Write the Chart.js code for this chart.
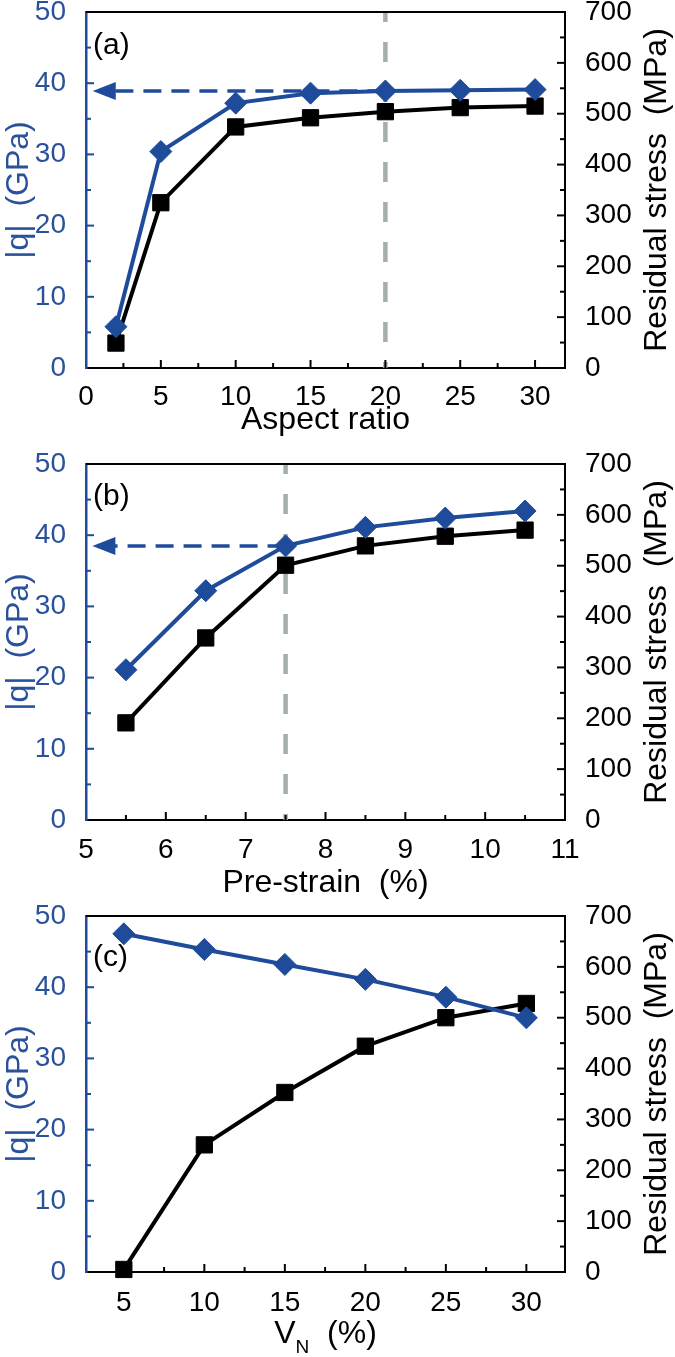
<!DOCTYPE html>
<html><head><meta charset="utf-8">
<script src="https://cdn.jsdelivr.net/npm/chart.js@4"></script>
<style>
html,body{margin:0;padding:0;background:#fff;}
body{width:675px;height:1357px;position:relative;overflow:hidden;}
canvas{position:absolute;left:0;}
</style></head><body>
<canvas id="ca"></canvas><canvas id="cb"></canvas><canvas id="cc"></canvas>
<script>
// ---- data ----
const aspectRatio = [2, 5, 10, 15, 20, 25, 30];
const qA = [5.8, 30.4, 37.2, 38.6, 38.9, 39.0, 39.1];
const stressA = [49, 325, 474, 492, 504, 512, 515];

const preStrain = [5.5, 6.5, 7.5, 8.5, 9.5, 10.5];
const qB = [21.1, 32.2, 38.5, 41.1, 42.4, 43.4];
const stressB = [191, 358, 501, 539, 558, 570];

const volumeN = [5, 10, 15, 20, 25, 30];
const qC = [47.5, 45.3, 43.2, 41.1, 38.6, 35.7];
const stressC = [5, 250, 353, 444, 500, 528];

const xTicksA = [0, 5, 10, 15, 20, 25, 30];
const xTicksB = [5, 6, 7, 8, 9, 10, 11];
const xTicksC = [5, 10, 15, 20, 25, 30];
const qTicks = [0, 10, 20, 30, 40, 50];
const stressTicks = [0, 100, 200, 300, 400, 500, 600, 700];

// reference markers (vertical guide x value, arrow |q| value, arrow tip x value)
const guideA = {x: 20, q: 38.9, tip: 0.45};
const guideB = {x: 7.5, q: 38.5, tip: 5.08};

// ---- style ----
const BLUE = '#1f4b9b';
const BLUE_TXT = '#2a519b';
const GRAY = '#a3b0a9';
const FONT = "'Liberation Sans', Arial, Helvetica, sans-serif";
const PADTOP = 30;
const RIGHT_TITLE = 'Residual stress  (MPa)';

const decor = {
  id: 'decor',
  beforeDatasetsDraw(chart) {
    const c = chart.options.plugins.decor;
    const {ctx, chartArea: a, scales: {x, yq}} = chart;
    if (!c.guide) return;
    ctx.save();
    const px = x.getPixelForValue(c.guide.x);
    ctx.strokeStyle = GRAY; ctx.lineWidth = 4.5;
    ctx.setLineDash([20, 20]); ctx.lineDashOffset = 10;
    ctx.beginPath(); ctx.moveTo(px, a.top); ctx.lineTo(px, a.bottom); ctx.stroke();
    // blue dashed arrow
    const py = yq.getPixelForValue(c.guide.q);
    const tip = x.getPixelForValue(c.guide.tip);
    ctx.strokeStyle = BLUE; ctx.lineWidth = 3.5;
    ctx.setLineDash([18, 10]); ctx.lineDashOffset = 0;
    ctx.beginPath(); ctx.moveTo(px, py); ctx.lineTo(tip + 18, py); ctx.stroke();
    ctx.setLineDash([]);
    ctx.fillStyle = BLUE;
    ctx.beginPath(); ctx.moveTo(tip, py); ctx.lineTo(tip + 23, py - 9); ctx.lineTo(tip + 23, py + 9); ctx.closePath(); ctx.fill();
    ctx.restore();
  },
  afterDraw(chart) {
    const c = chart.options.plugins.decor;
    const {ctx, chartArea: a, scales: {x, yq, ys}} = chart;
    ctx.save();
    ctx.setLineDash([]);
    // top frame
    ctx.strokeStyle = '#000'; ctx.lineWidth = 2;
    ctx.beginPath(); ctx.moveTo(a.left, a.top); ctx.lineTo(a.right + 1, a.top); ctx.stroke();
    // x ticks (inward)
    ctx.lineWidth = 2; ctx.strokeStyle = '#000';
    const st = c.xMinor;
    for (let v = Math.ceil((x.min + 1e-6) / st) * st; v < x.max - 1e-6; v += st) {
      const p = x.getPixelForValue(v);
      const major = Math.abs(v / c.xMajor - Math.round(v / c.xMajor)) < 1e-6;
      ctx.beginPath(); ctx.moveTo(p, a.bottom); ctx.lineTo(p, a.bottom - (major ? 8 : 5)); ctx.stroke();
    }
    // left ticks
    ctx.strokeStyle = BLUE;
    for (let v = 5; v < 50; v += 5) {
      const p = yq.getPixelForValue(v);
      ctx.beginPath(); ctx.moveTo(a.left, p); ctx.lineTo(a.left + (v % 10 === 0 ? 8 : 5), p); ctx.stroke();
    }
    // right ticks
    ctx.strokeStyle = '#000';
    for (let v = 50; v < 700; v += 50) {
      const p = ys.getPixelForValue(v);
      ctx.beginPath(); ctx.moveTo(a.right, p); ctx.lineTo(a.right - (v % 100 === 0 ? 8 : 5), p); ctx.stroke();
    }
    // right axis title (reads bottom to top)
    ctx.save();
    ctx.fillStyle = '#000';
    ctx.font = '32px ' + FONT;
    ctx.textAlign = 'center'; ctx.textBaseline = 'middle';
    ctx.translate(657, (a.top + a.bottom) / 2);
    ctx.rotate(-Math.PI / 2);
    ctx.fillText(RIGHT_TITLE, 0, 0);
    ctx.restore();
    // panel label
    ctx.fillStyle = '#000';
    ctx.font = '30px ' + FONT;
    ctx.textBaseline = 'middle'; ctx.textAlign = 'left';
    ctx.fillText(c.label, a.left + 7, a.top + c.labelDy);
    // custom subscript x title
    if (c.subTitle) {
      const big = '32px ' + FONT, small = '19px ' + FONT;
      ctx.textBaseline = 'alphabetic';
      ctx.font = big; const w1 = ctx.measureText('V').width;
      const w3 = ctx.measureText('  (%)').width;
      ctx.font = small; const w2 = ctx.measureText('N').width;
      const cx = (a.left + a.right) / 2;
      let sx = cx - (w1 + w2 + w3) / 2;
      const by = a.bottom + 71;
      ctx.font = big; ctx.fillText('V', sx, by);
      ctx.font = small; ctx.fillText('N', sx + w1, by + 10);
      ctx.font = big; ctx.fillText('  (%)', sx + w1 + w2, by);
    }
    ctx.restore();
  }
};

function panel(id, p) {
  const canvas = document.getElementById(id);
  const H = PADTOP + (p.plotBottom - p.plotTop) + p.xAxisH;
  canvas.width = 675; canvas.height = H;
  canvas.style.width = '675px'; canvas.style.height = H + 'px';
  canvas.style.top = (p.plotTop - PADTOP) + 'px';
  const pts = (xs, ys) => xs.map((v, i) => ({x: v, y: ys[i]}));
  new Chart(canvas, {
    type: 'line',
    data: {
      datasets: [
        {data: pts(p.x, p.q), yAxisID: 'yq', borderColor: BLUE, backgroundColor: BLUE,
         borderWidth: 4, pointStyle: 'rectRot', pointRadius: 11, pointBorderWidth: 1,
         pointBackgroundColor: BLUE, pointBorderColor: BLUE, clip: false, tension: 0},
        {data: pts(p.x, p.s), yAxisID: 'ys', borderColor: '#000', backgroundColor: '#000',
         borderWidth: 4, pointStyle: 'rect', pointRadius: 11.5, pointBorderWidth: 1,
         pointBackgroundColor: '#000', pointBorderColor: '#000', clip: false, tension: 0}
      ]
    },
    options: {
      responsive: false, animation: false, devicePixelRatio: 1,
      layout: {padding: {top: PADTOP, left: 0, right: 0, bottom: 0}},
      plugins: {legend: {display: false}, tooltip: {enabled: false},
        decor: {guide: p.guide, label: p.label, labelDy: p.labelDy, xMinor: p.xMinor, xMajor: p.xMajor, subTitle: p.subTitle}},
      scales: {
        x: {type: 'linear', position: 'bottom', min: p.xMin, max: p.xMax,
          afterBuildTicks: s => { s.ticks = p.xTicks.map(v => ({value: v})); },
          afterFit: s => { s.height = p.xAxisH; },
          grid: {display: false}, border: {display: true, color: '#000', width: 2},
          ticks: {color: '#000', font: {family: FONT, size: 28}, padding: p.xTickPad, maxRotation: 0, autoSkip: false},
          title: {display: !p.subTitle, text: p.xTitle || '', color: '#000', font: {family: FONT, size: 32}, padding: {top: 0, bottom: p.xTitlePad}}
        },
        yq: {type: 'linear', position: 'left', min: 0, max: 50,
          afterBuildTicks: s => { s.ticks = qTicks.map(v => ({value: v})); },
          afterFit: s => { s.width = 86; },
          grid: {display: false}, border: {display: true, color: BLUE, width: 2.5},
          ticks: {color: BLUE_TXT, font: {family: FONT, size: 28}, padding: 12},
          title: {display: true, text: '|q|  (GPa)', color: BLUE_TXT, font: {family: FONT, size: 32}, padding: {top: 0, bottom: 0}}
        },
        ys: {type: 'linear', position: 'right', min: 0, max: 700,
          afterBuildTicks: s => { s.ticks = stressTicks.map(v => ({value: v})); },
          afterFit: s => { s.width = 110; },
          grid: {display: false}, border: {display: true, color: '#000', width: 2},
          ticks: {color: '#000', font: {family: FONT, size: 28}, padding: 12},
          title: {display: false}
        }
      }
    },
    plugins: [decor]
  });
}

panel('ca', {x: aspectRatio, q: qA, s: stressA, xMin: 0, xMax: 32, xTicks: xTicksA, xMinor: 2.5, xMajor: 5,
  plotTop: 12, plotBottom: 368, xAxisH: 82, xTickPad: 4, xTitle: 'Aspect ratio', xTitlePad: 11,
  guide: guideA, label: '(a)', labelDy: 34});
panel('cb', {x: preStrain, q: qB, s: stressB, xMin: 5, xMax: 11, xTicks: xTicksB, xMinor: 0.5, xMajor: 1,
  plotTop: 464, plotBottom: 820, xAxisH: 83, xTickPad: 5, xTitle: 'Pre-strain  (%)', xTitlePad: 1,
  guide: guideB, label: '(b)', labelDy: 33});
panel('cc', {x: volumeN, q: qC, s: stressC, xMin: 2.65, xMax: 32.4, xTicks: xTicksC, xMinor: 2.5, xMajor: 5,
  plotTop: 916, plotBottom: 1272, xAxisH: 85, xTickPad: 6, subTitle: true,
  guide: null, label: '(c)', labelDy: 42});
</script>
</body></html>
